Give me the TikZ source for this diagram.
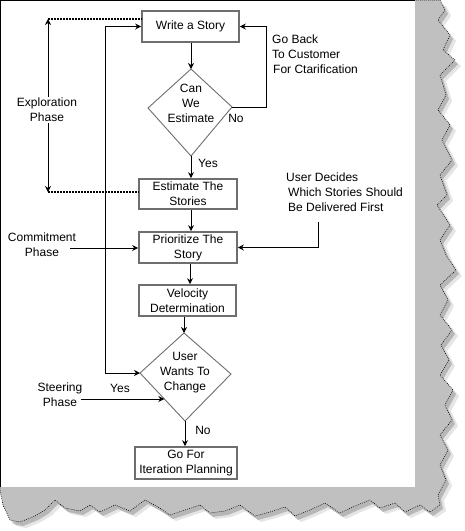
\documentclass[tikz,border=0pt]{standalone}
\usepackage{fontspec}
\setmainfont{Liberation Sans}
\usetikzlibrary{arrows.meta,calc}
\definecolor{paper}{HTML}{C0C0C0}
\definecolor{boxline}{HTML}{6E6E6E}
\newcommand\tornshape[1]{\path[#1] (0,0) -- (440,0) -- (445,10) -- (438,20) -- (450,35) -- (443,50) -- (455,60) -- (440,75) -- (446,95) -- (438,110) -- (450,125) -- (442,140) -- (452,160) -- (440,175) -- (447,195) -- (437,205) -- (450,225) -- (440,240) -- (446,255) -- (456,270) -- (440,285) -- (448,300) -- (440,315) -- (452,330) -- (441,345) -- (449,360) -- (440,375) -- (453,390) -- (445,405) -- (452,420) -- (440,435) -- (448,450) -- (440,465) -- (446,480) -- (438,495) -- (440,505) -- (430,512) -- (420,505) -- (405,512) -- (395,503) -- (380,508) -- (370,500) -- (355,506) -- (340,513) -- (325,503) -- (310,510) -- (295,516) -- (285,507) -- (270,512) -- (255,516) -- (240,505) -- (225,511) -- (210,513) -- (200,505) -- (185,510) -- (170,515) -- (158,507) -- (145,500) -- (130,511) -- (115,505) -- (100,512) -- (90,505) -- (80,511) -- (65,508) -- (55,500) -- (45,510) -- (35,516) -- (20,522) -- (10,520) -- (3,505) -- (0,490) -- cycle;}
\tikzset{
  flowbox/.style={draw=boxline, line width=1.6pt, fill=white, align=center, inner sep=0pt},
  lbl/.style={align=center, inner sep=1pt},
  lbll/.style={align=left, inner sep=1pt, anchor=north west},
  arr/.style={-{Stealth[length=6pt,width=6pt]}, line width=0.9pt},
  darr/.style={{Stealth[length=6pt,width=6pt]}-{Stealth[length=6pt,width=6pt]}, line width=0.9pt},
  dots/.style={line width=1.6pt, dash pattern=on 1.6pt off 1.4pt},
  dia/.style={draw=boxline, line width=0.9pt, fill=white}
}
\begin{document}
\begin{tikzpicture}[x=1pt,y=-1pt,font=\fontsize{12}{15}\selectfont]
\useasboundingbox (0,0) rectangle (464,531);
% paper and torn edge
\begin{scope}[shift={(6,6)}]\tornshape{fill=black,opacity=0.10}\end{scope}
\begin{scope}[shift={(3,4)}]\tornshape{fill=black,opacity=0.20}\end{scope}
\tornshape{fill=paper}
\tornshape{draw=black,line width=0.6pt,dash pattern=on 0.8pt off 1.2pt}
\fill[white] (0,0) rectangle (415,487);
\draw[line width=1.4pt] (0.5,487) -- (0.5,0.5) -- (415,0.5);

% boxes
\node[flowbox, minimum width=97pt, minimum height=31pt] (w) at (190.5,26.5) {Write a Story};
\node[flowbox, minimum width=98pt, minimum height=30pt] (est) at (188,194) {Estimate The\\Stories};
\node[flowbox, minimum width=98pt, minimum height=31pt] (pri) at (188,247.5) {Prioritize The\\Story};
\node[flowbox, minimum width=97pt, minimum height=31pt] (vel) at (187.5,300.5) {Velocity\\Determination};
\node[flowbox, minimum width=102pt, minimum height=32pt] (go) at (186,463) {Go For\\Iteration Planning};

% diamond 1
\coordinate (d1t) at (191,69);
\coordinate (d1r) at (232,107);
\coordinate (d1b) at (191,156);
\coordinate (d1l) at (148,108);
\draw[dia] (d1t) -- (d1r) -- (d1b) -- (d1l) -- cycle;
\node[lbl] (d1txt) at (191,103) {Can\\We\\Estimate};

% diamond 2
\coordinate (d2t) at (184,333);
\coordinate (d2r) at (231,374);
\coordinate (d2b) at (185,421);
\coordinate (d2l) at (140,373);
\draw[dia] (d2t) -- (d2r) -- (d2b) -- (d2l) -- cycle;
\node[lbl] (d2txt) at (185,373) {User\\Wants To\\Change};

% main flow
\draw[arr] (w.south -| d1t) -- (d1t);
\draw[arr] (d1b) -- (d1b |- est.north);
\node[lbl] (yes1) at (208,163) {Yes};
\draw[arr] (est.south -| d1b) -- (pri.north -| d1b);
\coordinate (colv) at (190,0);
\draw[arr] (pri.south -| colv) -- (vel.north -| colv);
\draw[arr] (vel.south -| d2t) -- (d2t);
\draw[arr] (d2b) -- (d2b |- go.north);
\node[lbl] (no2) at (203,430) {No};

% no loop from diamond 1
\coordinate (nox) at (266,0);
\draw[arr] (d1r) -- (d1r -| nox) -- (w.east -| nox) -- (w.east);
\node[lbl] (no1) at (236,118) {No};
\node[lbll] (goback) at (271,34) {Go Back\\To Customer\\\hspace{1pt}For Ctarification};

% loop from diamond 2 back to write story
\coordinate (loopx) at (105,0);
\draw[darr] (w.west) -- (w.west -| loopx) -- (d2l -| loopx) -- (d2l);

% exploration phase
\node[lbl] (ex) at (47,110) {Exploration\\Phase};
\coordinate (extop) at (48,19);
\coordinate (exbot) at (48,192);
\draw[arr] (ex.north -| extop) -- (extop);
\draw[arr] (ex.south -| exbot) -- (exbot);
\draw[dots] (extop) -- (extop -| w.west);
\draw[dots] (exbot) -- (exbot -| est.west);

% commitment phase
\node[lbl] (cm) at (42,245) {Commitment\\Phase};
\coordinate (cmstart) at (70,248);
\draw[arr] (cmstart) -- (cmstart -| pri.west);

% user decides
\node[lbll] (ud) at (285,172) {User Decides\\\hspace{2pt}Which Stories Should\\\hspace{2pt}Be Delivered First};
\coordinate (udx) at (318,222);
\draw[arr] (udx) -- (udx |- pri.east) -- (pri.east);

% steering phase
\node[lbl] (st) at (60,395) {Steering\\Phase};
\coordinate (ststart) at (81,399);
\coordinate (stend) at ($(d2l)!0.54!(d2b)$);
\draw[arr] (ststart) -- (ststart -| stend);
\node[lbl] (yes2) at (120,388) {Yes};
\end{tikzpicture}
\end{document}
